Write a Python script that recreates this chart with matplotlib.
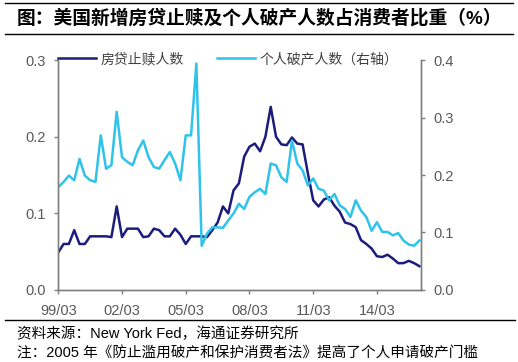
import matplotlib
matplotlib.use('Agg')
import matplotlib.pyplot as plt
from matplotlib.lines import Line2D

plt.rcParams['font.family'] = ['Liberation Sans', 'Noto Sans CJK SC']

# quarterly, 1999Q1 .. 2016Q1
foreclosure = [0.049, 0.060, 0.060, 0.078, 0.060, 0.060, 0.070, 0.070, 0.070, 0.070,
               0.069, 0.109, 0.069, 0.080, 0.080, 0.080, 0.069, 0.070, 0.080, 0.078,
               0.070, 0.070, 0.080, 0.072, 0.060, 0.070, 0.070, 0.070, 0.069, 0.078,
               0.088, 0.109, 0.100, 0.130, 0.139, 0.174, 0.187, 0.191, 0.181, 0.200,
               0.239, 0.200, 0.190, 0.189, 0.199, 0.191, 0.190, 0.152, 0.117, 0.109,
               0.118, 0.121, 0.110, 0.102, 0.088, 0.086, 0.082, 0.065, 0.060, 0.054,
               0.044, 0.043, 0.046, 0.041, 0.035, 0.035, 0.038, 0.035, 0.031]
bankruptcy = [0.179, 0.188, 0.199, 0.191, 0.228, 0.199, 0.191, 0.188, 0.269, 0.211,
              0.217, 0.310, 0.231, 0.223, 0.217, 0.243, 0.260, 0.231, 0.214, 0.211,
              0.226, 0.240, 0.220, 0.191, 0.269, 0.269, 0.394, 0.077, 0.098, 0.109,
              0.109, 0.108, 0.121, 0.133, 0.150, 0.141, 0.162, 0.170, 0.176, 0.167,
              0.220, 0.217, 0.196, 0.188, 0.260, 0.220, 0.208, 0.182, 0.194, 0.176,
              0.173, 0.156, 0.167, 0.147, 0.141, 0.127, 0.156, 0.138, 0.127, 0.103,
              0.118, 0.101, 0.101, 0.095, 0.099, 0.086, 0.079, 0.077, 0.086]
tick_labels = ['99/03', '02/03', '05/03', '08/03', '11/03', '14/03']

x = list(range(len(foreclosure)))
dark = '#1c1c7c'
light = '#2fc3ea'
gray = '#7f7f7f'
tcol = '#595959'

fig = plt.figure(figsize=(5.18, 3.62), dpi=100)
ax = fig.add_axes([0.1125, 0.199, 0.7008, 0.635])
ax2 = ax.twinx()

l1, = ax.plot(x, foreclosure, color=dark, lw=1.8, label='房贷止赎人数')
l2, = ax2.plot(x, bankruptcy, color=light, lw=1.8, label='个人破产人数（右轴）')

ax.set_xlim(0, 68.35)
ax.set_ylim(0, 0.3)
ax2.set_ylim(0, 0.4)
ax.set_yticks([0, 0.1, 0.2, 0.3])
ax.set_yticklabels(['0.0', '0.1', '0.2', '0.3'])
ax2.set_yticks([0, 0.1, 0.2, 0.3, 0.4])
ax2.set_yticklabels(['0.0', '0.1', '0.2', '0.3', '0.4'])
ax.set_xticks([0, 12, 24, 36, 48, 60])
ax.set_xticklabels(tick_labels)

for a in (ax, ax2):
    a.spines['top'].set_visible(False)
    for s in ('left', 'right', 'bottom'):
        a.spines[s].set_color(gray)
        a.spines[s].set_linewidth(1.0)
    a.tick_params(colors=tcol, labelsize=10.5, length=3, width=1.0, direction='out')
    a.tick_params(axis='both', color=gray)
ax.tick_params(axis='y', pad=6)
ax2.tick_params(axis='y', pad=6)
ax.tick_params(axis='x', pad=7)

leg = ax.legend(handles=[l1, l2], loc='upper left', bbox_to_anchor=(0, 1.035),
                ncol=2, frameon=False, fontsize=10, borderaxespad=0, borderpad=0,
                handlelength=2.7, handletextpad=0.35, columnspacing=2.4)
for t in leg.get_texts():
    t.set_color('#404040')

fig.text(0.5, 0.95, '图：美国新增房贷止赎及个人破产人数占消费者比重（%）',
         ha='center', va='center', fontsize=13.5, fontweight='bold')
fig.add_artist(Line2D([0.01, 0.99], [0.992, 0.992], color='black', lw=1.0))
fig.add_artist(Line2D([0.01, 0.99], [0.905, 0.905], color='black', lw=1.0))
fig.add_artist(Line2D([0.01, 0.995], [0.116, 0.116], color='black', lw=1.0))

fig.text(0.033, 0.077, '资料来源：New York Fed，海通证券研究所', ha='left', va='center', fontsize=10.5)
fig.text(0.033, 0.025, '注：2005 年《防止滥用破产和保护消费者法》提高了个人申请破产门槛',
         ha='left', va='center', fontsize=10.5)

fig.savefig('out.png', dpi=100)
